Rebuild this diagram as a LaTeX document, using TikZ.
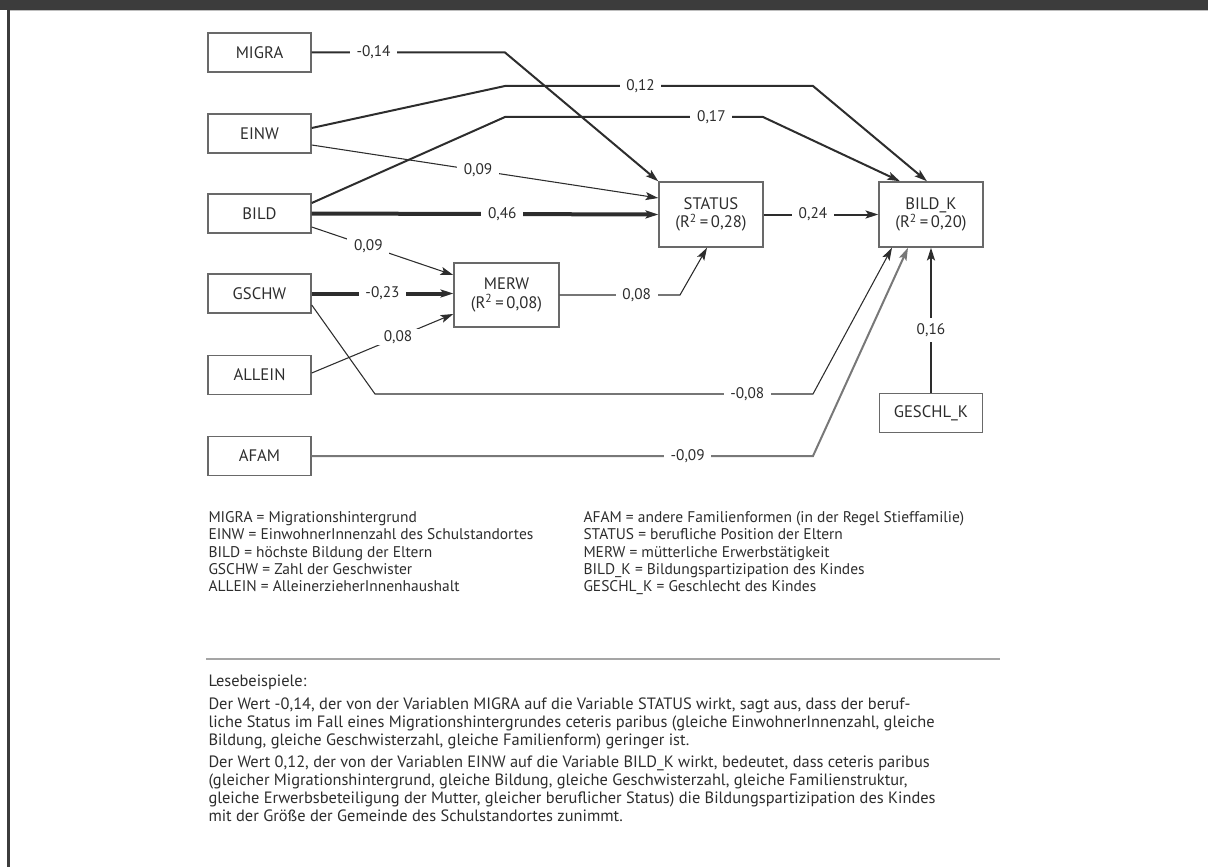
\documentclass[tikz,border=0pt]{standalone}
\usepackage{fontspec}
\setmainfont{PT Sans}
\usetikzlibrary{arrows.meta,calc}

\definecolor{ink}{RGB}{45,45,45}
\definecolor{boxgray}{RGB}{105,105,105}
\definecolor{framegray}{RGB}{60,60,60}
\definecolor{rulegray}{RGB}{165,165,165}

\tikzset{every picture/.style={line width=0.75pt},
  var/.style={draw=boxgray, line width=1.1pt, text=ink, inner sep=0pt,
    minimum width=77.25pt, minimum height=29.25pt, align=center,
    font=\fontsize{12.5}{14}\selectfont},
  bigvar/.style={var, minimum width=78pt, minimum height=48.75pt},
  coef/.style={fill=white, text=ink, inner xsep=5pt, inner ysep=1pt,
    font=\fontsize{11.5}{13}\selectfont},
  path/.style={draw=ink, -{Stealth[length=9.5pt,width=6pt,inset=2pt]}},
  thin path/.style={path, line width=0.8pt},
  mid path/.style={path, line width=1.5pt},
  thick path/.style={path, line width=3pt},
  keytext/.style={anchor=north west, inner sep=0pt, align=left, text=ink,
    font=\fontsize{11.6}{13}\selectfont},
  bodytext/.style={anchor=north west, inner sep=0pt, align=left, text=ink,
    font=\fontsize{12.3}{13.5}\selectfont}
}

\begin{document}
\begin{tikzpicture}[x=0.75pt,y=0.75pt,yscale=-1,xscale=1]
    \useasboundingbox (0,0) rectangle (1208,867);

    %Shape: Frame
    \fill [framegray] (0,0) rectangle (1208,10);
    \draw [color={rgb, 255:red, 190; green, 190; blue, 190 }] (10,10.8) -- (1208,10.8);
    \fill [framegray] (7,10) rectangle (10,867);

    %Shape: Rectangle (exogenous)
    \node [var] (migra) at (259.5,52.5) {MIGRA};
    \node [var] (einw) at (259.5,133.5) {EINW};
    \node [var] (bild) at (259.5,213.5) {BILD};
    \node [var] (gschw) at (259.5,293.5) {GSCHW};
    \node [var] (allein) at (259.5,375) {ALLEIN};
    \node [var] (afam) at (259.5,456) {AFAM};
    \node [var] (geschlk) at (931,413) {GESCHL\_K};
    %Shape: Rectangle (endogenous)
    \node [bigvar] (status) at (711,214.5) {STATUS\\(R\textsuperscript{2}\,=\,0,28)};
    \node [bigvar] (bildk) at (931,214.5) {BILD\_K\\(R\textsuperscript{2}\,=\,0,20)};
    \node [bigvar, minimum width=78.75pt, minimum height=48pt] (merw) at (506.5,295) {MERW\\(R\textsuperscript{2}\,=\,0,08)};

    %Straight Lines
    \draw [mid path] (migra.east) -- node [coef, pos=0.32] {-0,14} (505,52.5) -- (status.north west);
    \draw [mid path] ($(einw.east)+(0,-5.5)$) -- (505,86) -- node [coef, pos=0.44] {0,12} (813,86) -- ($(bildk.north)+(-4,0)$);
    \draw [mid path] ($(bild.east)+(0,-10.5)$) -- (505,117) -- node [coef, pos=0.8] {0,17} (763,117) -- ($(bildk.north)+(-31,0)$);
    \draw [thin path] ($(einw.east)+(0,11.5)$) -- node [coef, pos=0.48] {0,09} ($(status.west)+(0,-16.5)$);
    \draw [thick path] (bild.east) -- node [coef, pos=0.55] {0,46} (status.west);
    \draw [thin path] ($(bild.east)+(0,13.5)$) -- node [coef, pos=0.4] {0,09} ($(merw.west)+(0,-20)$);
    \draw [thick path] (gschw.east) -- node [coef, pos=0.5] {-0,23} (merw.west |- gschw.east);
    \draw [thin path] ($(allein.east)+(0,-2)$) -- node [coef, pos=0.61] {0,08} ($(merw.west)+(0,19)$);
    \draw [thin path] (merw.east) -- node [coef, pos=0.64] {0,08} (680,295) -- ($(status.south)+(-4,0)$);
    \draw [mid path] (status.east) -- node [coef, pos=0.43] {0,24} (bildk.west);
    \draw [thin path] ($(gschw.east)+(0,11.5)$) -- (375,394) -- node [coef, pos=0.85] {-0,08} (813,394) -- ($(bildk.south)+(-39,0)$);
    \draw [mid path, draw={rgb, 255:red, 120; green, 120; blue, 120 }] (afam.east) -- node [coef, pos=0.75] {-0,09} (813,456) -- ($(bildk.south)+(-23,0)$);
    \draw [mid path] (geschlk.north) -- node [coef, pos=0.43, inner xsep=2pt, inner ysep=4pt] {0,16} (bildk.south);

    % Text Node
    \node [keytext] (keyleft) at (208,511) {MIGRA = Migrationshintergrund\\
      EINW = EinwohnerInnenzahl des Schulstandortes\\
      BILD = höchste Bildung der Eltern\\
      GSCHW = Zahl der Geschwister\\
      ALLEIN = AlleinerzieherInnenhaushalt};
    % Text Node
    \node [keytext] (keyright) at (583,511) {AFAM = andere Familienformen (in der Regel Stieffamilie)\\
      STATUS = berufliche Position der Eltern\\
      MERW = mütterliche Erwerbstätigkeit\\
      BILD\_K = Bildungspartizipation des Kindes\\
      GESCHL\_K = Geschlecht des Kindes};

    %Straight Lines
    \draw [rulegray, line width=1.5pt] (206,659) -- (1000,659);

    % Text Node
    \node [bodytext] (readhead) at (208,674) {Lesebeispiele:};
    % Text Node
    \node [bodytext] (readone) at (208,697) {Der Wert -0,14, der von der Variablen MIGRA auf die Variable STATUS wirkt, sagt aus, dass der beruf-\\
      liche Status im Fall eines Migrationshintergrundes ceteris paribus (gleiche EinwohnerInnenzahl, gleiche\\
      Bildung, gleiche Geschwisterzahl, gleiche Familienform) geringer ist.};
    % Text Node
    \node [bodytext] (readtwo) at (208,755) {Der Wert 0,12, der von der Variablen EINW auf die Variable BILD\_K wirkt, bedeutet, dass ceteris paribus\\
      (gleicher Migrationshintergrund, gleiche Bildung, gleiche Geschwisterzahl, gleiche Familienstruktur,\\
      gleiche Erwerbsbeteiligung der Mutter, gleicher beruflicher Status) die Bildungspartizipation des Kindes\\
      mit der Größe der Gemeinde des Schulstandortes zunimmt.};

\end{tikzpicture}
\end{document}
